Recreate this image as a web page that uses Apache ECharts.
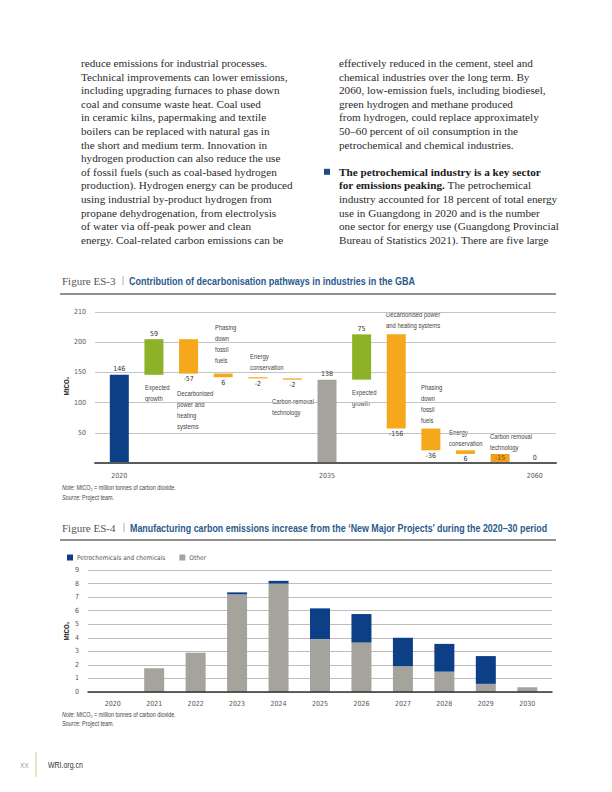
<!DOCTYPE html>
<html>
<head>
<meta charset="utf-8">
<script src="https://cdn.jsdelivr.net/npm/echarts@6/dist/echarts.min.js"></script>
<style>
html,body{margin:0;padding:0;background:#ffffff;}
#page{width:612px;height:792px;}
</style>
</head>
<body>
<div id="page"></div>
<script>
// ---------------- DATA ----------------
const leftParagraphLines = [
  'reduce emissions for industrial processes.',
  'Technical improvements can lower emissions,',
  'including upgrading furnaces to phase down',
  'coal and consume waste heat. Coal used',
  'in ceramic kilns, papermaking and textile',
  'boilers can be replaced with natural gas in',
  'the short and medium term. Innovation in',
  'hydrogen production can also reduce the use',
  'of fossil fuels (such as coal-based hydrogen',
  'production). Hydrogen energy can be produced',
  'using industrial by-product hydrogen from',
  'propane dehydrogenation, from electrolysis',
  'of water via off-peak power and clean',
  'energy. Coal-related carbon emissions can be'
];
const rightParagraphLines = [
  'effectively reduced in the cement, steel and',
  'chemical industries over the long term. By',
  '2060, low-emission fuels, including biodiesel,',
  'green hydrogen and methane produced',
  'from hydrogen, could replace approximately',
  '50–60 percent of oil consumption in the',
  'petrochemical and chemical industries.'
];
const bulletParagraphLines = [
  '{b|The petrochemical industry is a key sector}',
  '{b|for emissions peaking.}{r| The petrochemical}',
  'industry accounted for 18 percent of total energy',
  'use in Guangdong in 2020 and is the number',
  'one sector for energy use (Guangdong Provincial',
  'Bureau of Statistics 2021). There are five large'
];

const es3Label = 'Figure ES-3';
const es3Title = 'Contribution of decarbonisation pathways in industries in the GBA';
const es3Categories = ['2020', 'Expected growth', 'Decarbonised power and heating systems', 'Phasing down fossil fuels', 'Energy conservation', 'Carbon removal technology', '2035', 'Expected growth', 'Decarbonised power and heating systems', 'Phasing down fossil fuels', 'Energy conservation', 'Carbon removal technology', '2060'];
const es3Kinds = ['total', 'growth', 'reduction', 'reduction', 'reduction', 'removal', 'total', 'growth', 'reduction', 'reduction', 'reduction', 'removal', 'total'];
const es3Values = [146, 59, -57, -6, -2, -2, 138, 75, -156, -36, -6, -15, 0];
const es3ValueLabels = ['146', '59', '-57', '6', '-2', '-2', '138', '75', '-156', '-36', '6', '-15', '0'];
const es3XTickLabels = ['2020', '', '', '', '', '', '2035', '', '', '', '', '', '2060'];
const es3YTickLabels = ['', '50', '100', '150', '200', '210'];
const es3AnnotationLines = [
  null,
  ['Expected', 'growth'],
  ['Decarbonised', 'power and', 'heating', 'systems'],
  ['Phasing', 'down', 'fossil', 'fuels'],
  ['Energy', 'conservation'],
  ['Carbon removal', 'technology'],
  null,
  ['Expected', 'growth'],
  ['Decarbonised power', 'and heating systems'],
  ['Phasing', 'down', 'fossil', 'fuels'],
  ['Energy', 'conservation'],
  ['Carbon removal', 'technology'],
  null
];

const es4Label = 'Figure ES-4';
const es4Title = 'Manufacturing carbon emissions increase from the ‘New Major Projects’ during the 2020–30 period';
const es4Years = ['2020', '2021', '2022', '2023', '2024', '2025', '2026', '2027', '2028', '2029', '2030'];
const es4Petrochemicals = [0, 0, 0, 0.15, 0.2, 2.27, 2.1, 2.1, 2.05, 2.05, 0];
const es4Other = [0, 1.75, 2.9, 7.2, 8.0, 3.9, 3.65, 1.9, 1.5, 0.6, 0.35];
const es4SeriesNames = ['Petrochemicals and chemicals', 'Other'];
const es4YTickLabels = ['0', '1', '2', '3', '4', '5', '6', '7', '8', '9'];

const unitName = 'MtCO₂';
const noteText = 'MtCO₂ = million tonnes of carbon dioxide.';
const sourceText = 'Project team.';
const pageNumber = 'XX';
const siteName = 'WRI.org.cn';

// ---------------- STYLE / LAYOUT ----------------
const SERIF = "'Liberation Serif','Times New Roman',serif";
const SANS = "'Liberation Sans',Arial,sans-serif";
const NARROW = "'Liberation Sans Narrow','DejaVu Sans Condensed','Liberation Sans',sans-serif";
const NARROW_SCALE = 0.82;
const C_BLUE = '#0c3f85';
const C_GREEN = '#8db227';
const C_ORANGE = '#f5a81c';
const C_REMOVAL = '#f0a01e';
const C_GREY = '#a5a49c';
const C_TITLE = '#2a5a8c';
const C_TEXT = '#2b2b2b';
const C_SMALL = '#454545';

const body = { leftX: 81, rightX: 339, bulletX: 324, y0: 63, step: 13.6, size: 11.2 };
const es3Layout = { barLeft: 102, barRight: 60, bgLeft: 95, bgRight: 56, top: 312, bottom: 329, titleY: 281, ruleY: 294, titleX: 129, titleW: 286, noteY: 488, sourceY: 498, unitY: 386 };
const es4Layout = { barLeft: 92, barRight: 64, bgLeft: 88, bgRight: 60, top: 570, bottom: 100, titleY: 528, ruleY: 540, titleX: 130, titleW: 418, noteY: 715, sourceY: 724, unitY: 631 };
const es3AnnotationPos = [null, [145, 387], [177, 393], [215, 327], [250, 356], [272, 401], null, [352, 392], [386, 314], [421, 387], [449, 432], [490, 436], null];
const annLineH = 11;

// ---------------- HELPERS ----------------
const measureCtx = document.createElement('canvas').getContext('2d');
function measure(text, font) { measureCtx.font = font; return measureCtx.measureText(text).width; }
function tokenStyle(size, family, weight, style, fill) {
  return { fontSize: size, fontFamily: family, fontWeight: weight || 'normal', fontStyle: style || 'normal', fill: fill };
}
function textEl(x, y, text, opts, elOpts) {
  const st = Object.assign({
    text: text, fontSize: 7, fontFamily: SANS, fontWeight: 'normal', fontStyle: 'normal',
    fill: C_SMALL, align: 'left', verticalAlign: 'middle'
  }, opts || {});
  return Object.assign({ type: 'text', x: x, y: y, silent: true, style: st }, elOpts || {});
}
function narrowEl(x, y, text, opts) {
  return textEl(x, y, text, opts, { scaleX: NARROW_SCALE });
}

const graphics = [];
// Body text
leftParagraphLines.forEach((line, i) => {
  graphics.push(textEl(body.leftX, body.y0 + i * body.step, line, { fontSize: body.size, fontFamily: SERIF, fill: C_TEXT }));
});
rightParagraphLines.forEach((line, i) => {
  graphics.push(textEl(body.rightX, body.y0 + i * body.step, line, { fontSize: body.size, fontFamily: SERIF, fill: C_TEXT }));
});
const richBody = {
  b: tokenStyle(body.size, SERIF, 'bold', 'normal', '#1a1a1a'),
  r: tokenStyle(body.size, SERIF, 'normal', 'normal', C_TEXT)
};
bulletParagraphLines.forEach((line, i) => {
  graphics.push(textEl(body.rightX, body.y0 + (i + 8) * body.step, line, { fontSize: body.size, fontFamily: SERIF, fill: C_TEXT, rich: richBody }));
});
graphics.push({ type: 'rect', silent: true, shape: { x: body.bulletX, y: body.y0 + 8 * body.step - 3, width: 6, height: 6 }, style: { fill: '#1d4f86' } });

// Figure titles
function addTitle(label, title, L) {
  graphics.push(textEl(62, L.titleY, label, { fontSize: 11, fontFamily: SERIF, fill: '#555555' }));
  graphics.push({ type: 'line', silent: true, shape: { x1: L.titleX - 6, y1: L.titleY - 5, x2: L.titleX - 6, y2: L.titleY + 4 }, style: { stroke: '#9a9a9a', lineWidth: 0.8 } });
  const font = 'bold 10px ' + SANS;
  const w = measure(title, font) || 1;
  graphics.push(textEl(L.titleX, L.titleY, title, { fontSize: 10, fontFamily: SANS, fontWeight: 'bold', fill: C_TITLE }, { scaleX: L.titleW / w }));
  graphics.push({ type: 'line', silent: true, shape: { x1: 60, y1: L.ruleY, x2: 556, y2: L.ruleY }, style: { stroke: '#222', lineWidth: 1 } });
  graphics.push({ type: 'text', silent: true, x: 66, y: L.unitY, rotation: Math.PI / 2, scaleX: NARROW_SCALE,
    style: { text: unitName, fontSize: 7.5, fontFamily: SANS, fontWeight: 'bold', fill: '#222', align: 'center', verticalAlign: 'middle' } });
  const richNote = {
    i: tokenStyle(6.6, SANS, 'normal', 'italic', C_SMALL),
    n: tokenStyle(6.6, SANS, 'normal', 'normal', C_SMALL)
  };
  graphics.push(narrowEl(62, L.noteY, '{i|Note:}{n| ' + noteText + '}', { rich: richNote }));
  graphics.push(narrowEl(62, L.sourceY, '{i|Source:}{n| ' + sourceText + '}', { rich: richNote }));
}
addTitle(es3Label, es3Title, es3Layout);
addTitle(es4Label, es4Title, es4Layout);

// Annotations for waterfall
es3AnnotationLines.forEach((lines, i) => {
  if (!lines) return;
  const p = es3AnnotationPos[i];
  lines.forEach((ln, k) => {
    graphics.push(narrowEl(p[0], p[1] + k * annLineH, ln, { fontSize: 7.2, fill: '#444' }));
  });
});

// Footer
graphics.push(textEl(20, 765, pageNumber, { fontSize: 8, fontFamily: SANS, fill: '#9a9a9a' }, { scaleX: NARROW_SCALE }));
graphics.push({ type: 'line', silent: true, shape: { x1: 36, y1: 752, x2: 36, y2: 777 }, style: { stroke: '#e2dfae', lineWidth: 1.5 } });
graphics.push(textEl(48, 765, siteName, { fontSize: 8.5, fontFamily: SANS, fill: '#333' }, { scaleX: NARROW_SCALE }));

// Waterfall computation
const wfBase = [], wfHeight = [];
let running = 0;
es3Values.forEach((v, i) => {
  if (es3Kinds[i] === 'total') { wfBase.push(0); wfHeight.push(v); running = v; }
  else if (v >= 0) { wfBase.push(running); wfHeight.push(v); running += v; }
  else { running += v; wfBase.push(running); wfHeight.push(-v); }
});
const totalColors = [C_BLUE, C_GREY, C_GREY];
let totalIdx = 0;
const wfData = wfHeight.map((h, i) => {
  const kind = es3Kinds[i];
  let color, pos = 'top', labelColor = '#333';
  if (kind === 'total') { color = totalColors[totalIdx++]; }
  else if (kind === 'growth') { color = C_GREEN; }
  else if (kind === 'reduction') { color = C_ORANGE; pos = 'bottom'; }
  else { color = C_REMOVAL; pos = (h > 5) ? 'inside' : 'bottom'; if (h > 5) labelColor = '#8a4a00'; }
  return { value: h, itemStyle: { color: color }, label: { position: pos, color: labelColor } };
});

const axisLabelSmall = { fontSize: 7, fontFamily: NARROW, color: '#555' };

const option = {
  animation: false,
  backgroundColor: '#ffffff',
  textStyle: { fontFamily: NARROW },
  grid: [
    { left: es3Layout.barLeft, right: es3Layout.barRight, top: es3Layout.top, bottom: es3Layout.bottom, containLabel: false, outerBoundsMode: 'none' },
    { left: es3Layout.bgLeft, right: es3Layout.bgRight, top: es3Layout.top, bottom: es3Layout.bottom, containLabel: false, outerBoundsMode: 'none' },
    { left: es4Layout.barLeft, right: es4Layout.barRight, top: es4Layout.top, bottom: es4Layout.bottom, containLabel: false, outerBoundsMode: 'none' },
    { left: es4Layout.bgLeft, right: es4Layout.bgRight, top: es4Layout.top, bottom: es4Layout.bottom, containLabel: false, outerBoundsMode: 'none' }
  ],
  legend: {
    data: es4SeriesNames, left: 62, top: 549, icon: 'rect', itemWidth: 6, itemHeight: 6, itemGap: 14,
    textStyle: { fontSize: 6.5, fontFamily: NARROW, color: '#555', padding: [0, 0, 0, -1] },
    selectedMode: false
  },
  xAxis: [
    { type: 'category', gridIndex: 0, data: es3Categories, axisLine: { show: false }, axisTick: { show: false },
      axisLabel: Object.assign({ interval: 0, margin: 9, formatter: (v, i) => es3XTickLabels[i] }, axisLabelSmall), splitLine: { show: false } },
    { type: 'value', gridIndex: 1, min: 0, max: 1, axisLabel: { show: false }, axisTick: { show: false }, splitLine: { show: false },
      axisLine: { show: true, onZero: false, lineStyle: { color: '#5a5a5a', width: 2 } }, z: 5 },
    { type: 'category', gridIndex: 2, data: es4Years, axisLine: { show: false }, axisTick: { show: false },
      axisLabel: Object.assign({ interval: 0, margin: 8 }, axisLabelSmall), splitLine: { show: false } },
    { type: 'value', gridIndex: 3, min: 0, max: 1, axisLabel: { show: false }, axisTick: { show: false }, splitLine: { show: false },
      axisLine: { show: true, onZero: false, lineStyle: { color: '#333', width: 1.5 } }, z: 5 }
  ],
  yAxis: [
    { type: 'value', gridIndex: 0, min: 0, max: 250, interval: 50, axisLabel: { show: false }, axisLine: { show: false }, axisTick: { show: false }, splitLine: { show: false } },
    { type: 'value', gridIndex: 1, min: 0, max: 250, interval: 50, axisLine: { show: false }, axisTick: { show: false },
      axisLabel: Object.assign({ margin: 9, formatter: v => es3YTickLabels[Math.round(v / 50)] }, axisLabelSmall),
      splitLine: { show: true, lineStyle: { color: '#c4c4c4', width: 1 } } },
    { type: 'value', gridIndex: 2, min: 0, max: 9, interval: 1, axisLabel: { show: false }, axisLine: { show: false }, axisTick: { show: false }, splitLine: { show: false } },
    { type: 'value', gridIndex: 3, min: 0, max: 9, interval: 1, axisLine: { show: false }, axisTick: { show: false },
      axisLabel: Object.assign({ margin: 9, formatter: v => es4YTickLabels[Math.round(v)] }, axisLabelSmall),
      splitLine: { show: true, lineStyle: { color: '#bdbdbd', width: 1 } } }
  ],
  series: [
    { name: 'wf-base', type: 'bar', xAxisIndex: 0, yAxisIndex: 0, stack: 'wf', barWidth: 19, silent: true,
      itemStyle: { color: 'rgba(0,0,0,0)' }, data: wfBase, label: { show: false } },
    { name: 'wf-value', type: 'bar', xAxisIndex: 0, yAxisIndex: 0, stack: 'wf', barWidth: 19, silent: true,
      data: wfData,
      label: { show: true, distance: 2, fontSize: 7, fontFamily: NARROW, formatter: p => es3ValueLabels[p.dataIndex] } },
    { name: es4SeriesNames[1], type: 'bar', xAxisIndex: 2, yAxisIndex: 2, stack: 'es4', barWidth: 20, silent: true,
      itemStyle: { color: C_GREY }, data: es4Other },
    { name: es4SeriesNames[0], type: 'bar', xAxisIndex: 2, yAxisIndex: 2, stack: 'es4', barWidth: 20, silent: true,
      itemStyle: { color: C_BLUE }, data: es4Petrochemicals }
  ],
  graphic: { elements: graphics }
};

const chart = echarts.init(document.getElementById('page'), null, { renderer: 'svg', width: 612, height: 792 });
chart.setOption(option);
</script>
</body>
</html>
